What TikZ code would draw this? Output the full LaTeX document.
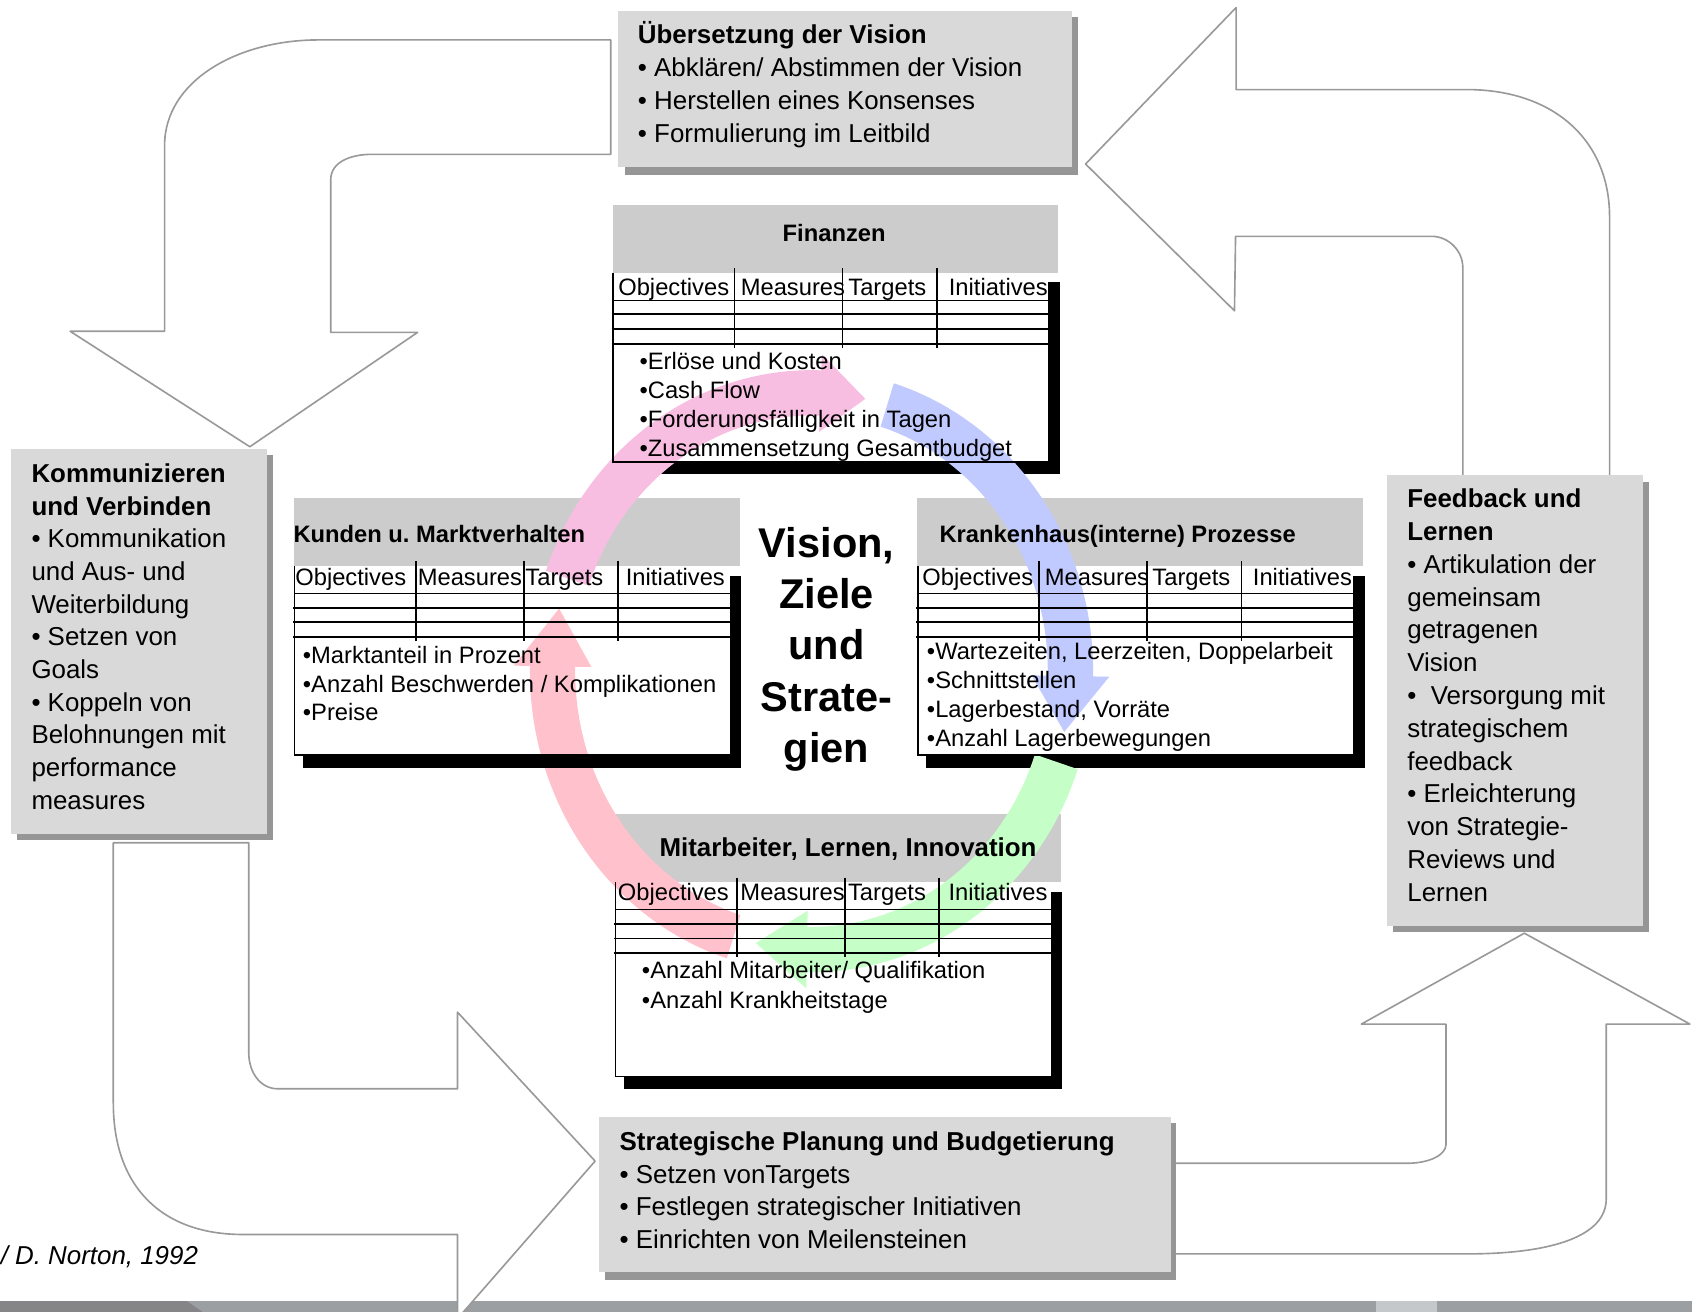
\documentclass[tikz,border=0pt]{standalone}
\usepackage{fontspec}
\setmainfont{Liberation Sans}
\frenchspacing
\definecolor{boxgray}{HTML}{D9D9D9}
\definecolor{shadowgray}{HTML}{969696}
\definecolor{headgray}{HTML}{CCCCCC}
\definecolor{outlinegray}{HTML}{999999}
\definecolor{ringpink}{HTML}{F8BEE1}
\definecolor{ringblue}{HTML}{C0CAFF}
\definecolor{ringgreen}{HTML}{C5FFC7}
\definecolor{ringrose}{HTML}{FFC1CC}
\definecolor{bardark}{HTML}{858587}
\definecolor{barmid}{HTML}{9C9FA1}
\definecolor{barlight}{HTML}{C5C8CB}
\def\RCX{752}\def\RCY{622}\def\RRX{240}\def\RRY{258}
\newcommand\ringarrow[4]{%
  \fill[#1] plot[domain=#2:#3, samples=50, variable=\ang] ({\RCX+(\RRX+21)*cos(\ang)},{\RCY-(\RRY+21)*sin(\ang)})
   -- ({\RCX+(\RRX+36)*cos(#3)},{\RCY-(\RRY+36)*sin(#3)})
   -- ({\RCX+\RRX*cos(#4)},{\RCY-\RRY*sin(#4)})
   -- ({\RCX+(\RRX-36)*cos(#3)},{\RCY-(\RRY-36)*sin(#3)})
   -- plot[domain=#3:#2, samples=50, variable=\ang] ({\RCX+(\RRX-21)*cos(\ang)},{\RCY-(\RRY-21)*sin(\ang)})
   -- cycle;}
\newcommand\BSCback[3]{% hx, hy, body height
  \fill[black] ({#1+8},{#2+#3}) rectangle ({#1+414.6},{#2+#3+11.7});
  \fill[black] ({#1+403.8},{#2+71.6}) rectangle ({#1+414.6},{#2+#3+11.7});
  \fill[white] ({#1+0.5},{#2+63}) rectangle ({#1+403.8},{#2+#3});
  \fill[headgray] (#1,#2) rectangle ({#1+413},{#2+63});
}
\newcommand\BSCgrid[6]{% prefix, hx, hy, body height, text x shift, text baseline
  \draw[line width=1.5pt] ({#2+0.5},{#3+63}) -- ({#2+0.5},{#3+#4}) -- ({#2+403.8},{#3+#4});
  \draw[line width=0.9pt] (#2,{#3+88.2}) -- ({#2+403.8},{#3+88.2});
  \foreach \rowy in {101.3,115,128.5} \draw[line width=1.8pt] ({#2-1},{#3+\rowy}) -- ({#2+403.8},{#3+\rowy});
  \foreach \colx in {112.9,213,300.4} \draw[line width=1.6pt] ({#2+\colx},{#3+58.5}) -- ({#2+\colx},{#3+132.2});
  \node[tabtxt] (#1obj) at ({#2+3.5+#5},{#3+#6}) {Objectives};
  \node[tabtxt] (#1mea) at ({#2+117+#5},{#3+#6}) {Measures};
  \node[tabtxt] (#1tar) at ({#2+216.7+#5},{#3+#6}) {Targets};
  \node[tabtxt] (#1ini) at ({#2+309.8+#5},{#3+#6}) {Initiatives};
}
\begin{document}
\begin{tikzpicture}[x=1pt,y=-1pt,
  bigarrow/.style={draw=outlinegray, line width=1.5pt, fill=white, line join=round},
  boxtxt/.style={anchor=base west, inner sep=0pt, font=\fontsize{24}{29}\selectfont},
  tabtxt/.style={anchor=base west, inner sep=0pt, font=\fontsize{22}{27}\selectfont},
  tabhead/.style={anchor=base west, inner sep=0pt, font=\bfseries\fontsize{22}{27}\selectfont},
  boldhead/.style={anchor=base west, inner sep=0pt, font=\bfseries\fontsize{24}{29}\selectfont},
  centertxt/.style={anchor=base, inner sep=0pt, font=\bfseries\fontsize{38.5}{47}\selectfont},
  normtxt/.style={anchor=base west, inner sep=0pt, font=\itshape\fontsize{24}{29}\selectfont}]
\useasboundingbox (0,0) rectangle (1568,1215);
\begin{scope}
\clip (0,0) rectangle (1568,1215);
\fill[white] (0,0) rectangle (1568,1215);
% bottom bar
\fill[barmid] (0,1205.7) rectangle (1568,1216);
\fill[bardark] (0,1205.7) -- (173,1205.7) -- (188,1216) -- (0,1216) -- cycle;
\fill[barlight] (1275,1205.7) rectangle (1332,1216);
% big outline arrows
\draw[bigarrow] (566,37) -- (295,37) .. controls (220,37) and (152.5,75) .. (152.5,135) -- (152.5,307) -- (65,307) -- (231.5,414) -- (387,308) -- (306.5,308) -- (306.5,166.5) .. controls (306.5,150) and (325,143) .. (345,143) -- (566,143) -- cycle;
\draw[bigarrow] (1006,152) -- (1145.5,7) -- (1145.5,83) -- (1359,83) .. controls (1440,83) and (1491.6,130) .. (1491.6,201) -- (1491.6,445) -- (1355.6,445) -- (1355.6,248) .. controls (1355.6,232) and (1342,219) .. (1326.7,219) -- (1145,219) -- (1144,288) -- cycle;
\draw[bigarrow] (105,781) -- (105,1022) .. controls (105,1100) and (150,1144) .. (225,1144) -- (424,1144) -- (424,1222) -- (551.5,1076) -- (424,938) -- (424,1009) -- (257.5,1009) .. controls (242,1009) and (230.5,995) .. (230.5,975) -- (230.5,781) -- cycle;
\draw[bigarrow] (1261.6,949) -- (1412.6,864.8) -- (1566,949) -- (1488.5,949) -- (1488.5,1111) .. controls (1488.5,1145) and (1440,1162) .. (1359,1162) -- (1087,1162) -- (1087,1078) -- (1304,1078) .. controls (1325,1078) and (1340,1070) .. (1340,1060.7) -- (1340,949) -- cycle;
% gray boxes
\fill[shadowgray] (579,16) rectangle (999,162);
\fill[boxgray] (572.5,10.5) rectangle (993,155);
\fill[shadowgray] (16,422) rectangle (252.6,778.6);
\fill[boxgray] (10,416) rectangle (247.5,773);
\fill[shadowgray] (1290.6,447) rectangle (1528,864);
\fill[boxgray] (1285.5,440.5) rectangle (1522.6,858);
\fill[shadowgray] (561,1041) rectangle (1090,1186);
\fill[boxgray] (555,1035.5) rectangle (1085,1179);
% box texts
\foreach [count=\idx from 0] \txt in {{\textbf{Übersetzung der Vision}},{• Abklären/ Abstimmen der Vision},{• Herstellen eines Konsenses},{• Formulierung im Leitbild}}
  \node[boxtxt] (ueb\idx) at (591,{40.7+30.3*\idx}) {\txt};
\foreach [count=\idx from 0] \txt in {{\textbf{Kommunizieren}},{\textbf{und Verbinden}},{• Kommunikation},{und Aus- und},{Weiterbildung},{• Setzen von},{Goals},{• Koppeln von},{Belohnungen mit},{performance},{measures}}
  \node[boxtxt] (kom\idx) at (29,{447+30.3*\idx}) {\txt};
\foreach [count=\idx from 0] \txt in {{\textbf{Feedback und}},{\textbf{Lernen}},{• Artikulation der},{gemeinsam},{getragenen},{Vision},{•\ \ Versorgung mit},{strategischem},{feedback},{• Erleichterung},{von Strategie-},{Reviews und},{Lernen}}
  \node[boxtxt] (fee\idx) at (1304,{470.4+30.4*\idx}) {\txt};
\foreach [count=\idx from 0] \txt in {{\textbf{Strategische Planung und Budgetierung}},{• Setzen vonTargets},{• Festlegen strategischer Initiativen},{• Einrichten von Meilensteinen}}
  \node[boxtxt] (str\idx) at (574,{1066+30.3*\idx}) {\txt};
\node[normtxt] (norton) at (0.5,1172) {/ D. Norton, 1992};
% tables background
\BSCback{567.8}{190}{238}
\BSCback{272.5}{461.8}{238}
\BSCback{850.1}{461.8}{238}
\BSCback{570}{754.7}{243}
% ring arrows
\ringarrow{ringpink}{160.5}{88}{78}
\ringarrow{ringblue}{73}{-1}{-12.6}
\ringarrow{ringgreen}{-19}{-91}{-102.4}
\ringarrow{ringrose}{252.5}{179}{167}
\fill[black] (280.5,699.7) rectangle (687.1,711.4);
% table grids and texts
\BSCgrid{fin}{567.8}{190}{238}{1.5}{83.4}
\BSCgrid{kun}{272.5}{461.8}{238}{-2.5}{81}
\BSCgrid{kra}{850.1}{461.8}{238}{1}{81}
\BSCgrid{mit}{570}{754.7}{243}{-1}{80}
\node[tabhead, anchor=base] (finT) at (773,224) {Finanzen};
\node[tabhead] (kunT) at (271.8,503) {Kunden u. Marktverhalten};
\node[tabhead] (kraT) at (870.5,503) {Krankenhaus(interne) Prozesse};
\node[boldhead] (mitT) at (611,794) {Mitarbeiter, Lernen, Innovation};
\foreach [count=\idx from 0] \txt in {{•Erlöse und Kosten},{•Cash Flow},{•Forderungsfälligkeit in Tagen},{•Zusammensetzung Gesamtbudget}}
  \node[tabtxt] (finC\idx) at (592.5,{342+27.1*\idx}) {\txt};
\foreach [count=\idx from 0] \txt in {{•Marktanteil in Prozent},{•Anzahl Beschwerden / Komplikationen},{•Preise}}
  \node[tabtxt] (kunC\idx) at (280.5,{614.8+26.6*\idx}) {\txt};
\foreach [count=\idx from 0] \txt in {{•Wartezeiten, Leerzeiten, Doppelarbeit},{•Schnittstellen},{•Lagerbestand, Vorräte},{•Anzahl Lagerbewegungen}}
  \node[tabtxt] (kraC\idx) at (858.8,{611+27*\idx}) {\txt};
\foreach [count=\idx from 0] \txt in {{•Anzahl Mitarbeiter/ Qualifikation},{•Anzahl Krankheitstage}}
  \node[tabtxt] (mitC\idx) at (594.7,{906.7+27.8*\idx}) {\txt};
% centre
\foreach [count=\idx from 0] \txt in {{Vision,},{Ziele},{und},{Strate-},{gien}}
  \node[centertxt] (vis\idx) at (766,{517+47.3*\idx}) {\txt};
\end{scope}
\end{tikzpicture}
\end{document}
